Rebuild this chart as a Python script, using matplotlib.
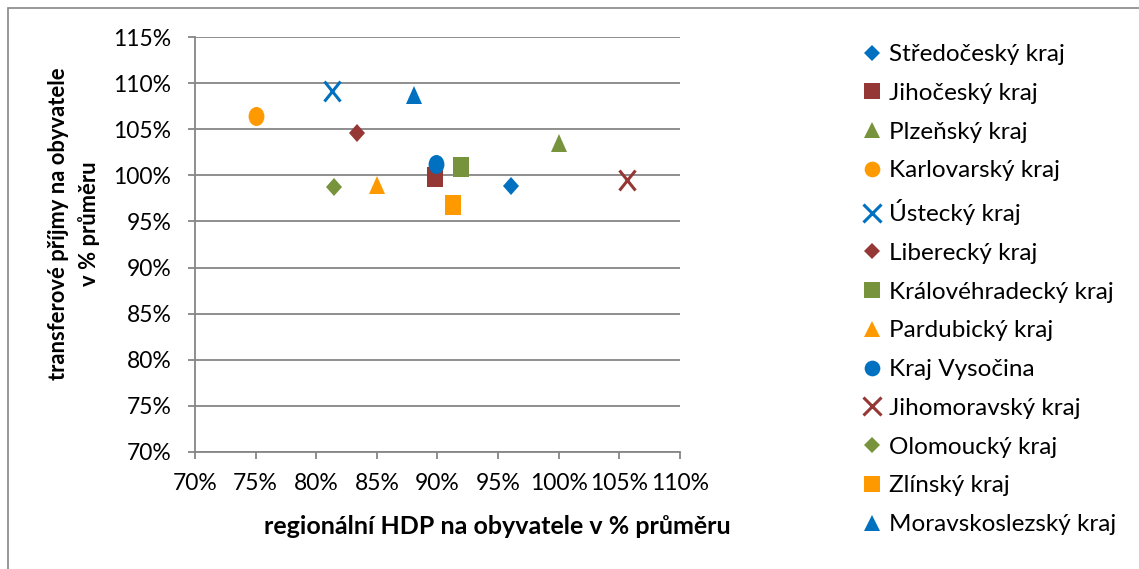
import matplotlib
matplotlib.use("Agg")
import matplotlib.pyplot as plt
from matplotlib.markers import MarkerStyle
from matplotlib.transforms import Affine2D
from matplotlib.lines import Line2D
from matplotlib.patches import Rectangle
from matplotlib.ticker import FuncFormatter, MultipleLocator

plt.rcParams['font.family'] = ['Lato', 'DejaVu Sans']

# Regions: GDP per capita (% of average) vs. transfer income per capita (% of average)
regions = ["Středočeský kraj", "Jihočeský kraj", "Plzeňský kraj", "Karlovarský kraj",
           "Ústecký kraj", "Liberecký kraj", "Královéhradecký kraj", "Pardubický kraj",
           "Kraj Vysočina", "Jihomoravský kraj", "Olomoucký kraj", "Zlínský kraj",
           "Moravskoslezský kraj"]
hdp = [96.1, 89.8, 100.0, 75.0, 81.3, 83.4, 91.9, 85.0, 89.9, 105.6, 81.5, 91.3, 88.1]
transfers = [98.8, 99.8, 103.5, 106.5, 109.2, 104.6, 100.9, 99.0, 101.2, 99.5, 98.7, 96.8, 108.7]

BLUE, RED, GREEN, ORANGE = "#0070C0", "#953735", "#77933C", "#FF9900"
colors = [BLUE, RED, GREEN, ORANGE, BLUE, RED, GREEN, ORANGE, BLUE, RED, GREEN, ORANGE, BLUE]
markers = ["D", "s", "^", "o", "x", "D", "s", "^", "o", "x", "D", "s", "^"]
plot_size = {"D": 7.8, "s": 11.5, "^": 11.2, "o": 11.4, "x": 12.0}
legend_size = {"D": 8.0, "s": 11.5, "^": 11.5, "o": 11.3, "x": 12.5}

W, H = 1139, 569
fig = plt.figure(figsize=(W / 100, H / 100), dpi=100)
fig.patch.set_facecolor("white")

# chart frame
fig.patches.append(Rectangle((8 / W, -0.2), 1.5, 1.2 - 8 / H, transform=fig.transFigure,
                             fill=False, edgecolor="#868686", linewidth=1.2))

ax = fig.add_axes([195 / W, 1 - 451.7 / H, (680 - 195) / W, (451.7 - 37.3) / H])
stretch = Affine2D().scale(1, 1.2)
for x, y, c, m, name in zip(hdp, transfers, colors, markers, regions):
    ms = MarkerStyle(m, transform=stretch)
    if m == "x":
        ax.plot([x / 100], [y / 100], linestyle="none", marker=ms, markersize=plot_size[m],
                markeredgecolor=c, markeredgewidth=2.2, label=name, zorder=3)
    else:
        ax.plot([x / 100], [y / 100], linestyle="none", marker=ms, markersize=plot_size[m],
                markerfacecolor=c, markeredgecolor=c, markeredgewidth=0, label=name, zorder=3)

ax.set_xlim(0.70, 1.10)
ax.set_ylim(0.70, 1.15)
ax.xaxis.set_major_locator(MultipleLocator(0.05))
ax.yaxis.set_major_locator(MultipleLocator(0.05))
pct = FuncFormatter(lambda v, _: f"{round(v * 100):d}%")
ax.xaxis.set_major_formatter(pct)
ax.yaxis.set_major_formatter(pct)

grey = "#868686"
ax.grid(axis="y", color=grey, linewidth=1.3)
ax.set_axisbelow(True)
for s in ("top", "right"):
    ax.spines[s].set_visible(False)
for s in ("left", "bottom"):
    ax.spines[s].set_color(grey)
    ax.spines[s].set_linewidth(1.3)
ax.tick_params(axis="both", direction="out", length=5, width=1.3, color=grey,
               labelsize=16.5, labelcolor="black")
ax.tick_params(axis="y", pad=12)
ax.tick_params(axis="x", pad=10)

fig.text(497 / W, 1 - 527 / H, "regionální HDP na obyvatele v % průměru",
         ha="center", va="center", fontsize=18, fontweight="bold")
fig.text(74 / W, 1 - 224 / H, "transferové příjmy na obyvatele\nv % průměru",
         ha="center", va="center", rotation=90, fontsize=15.8, fontweight="bold",
         multialignment="center", linespacing=1.55)

handles = []
for c, m in zip(colors, markers):
    if m == "x":
        handles.append(Line2D([], [], linestyle="none", marker=m, markersize=legend_size[m],
                              markeredgecolor=c, markeredgewidth=2.2))
    else:
        handles.append(Line2D([], [], linestyle="none", marker=m, markersize=legend_size[m],
                              markerfacecolor=c, markeredgecolor=c, markeredgewidth=0))

leg = fig.legend(handles, regions, loc="upper left", bbox_to_anchor=(862 / W, 1 - 44 / H),
                 frameon=False, fontsize=17.5, handlelength=0.8, handletextpad=0.3,
                 labelspacing=0.73, borderaxespad=0, borderpad=0)

fig.savefig("out.png", dpi=100)
